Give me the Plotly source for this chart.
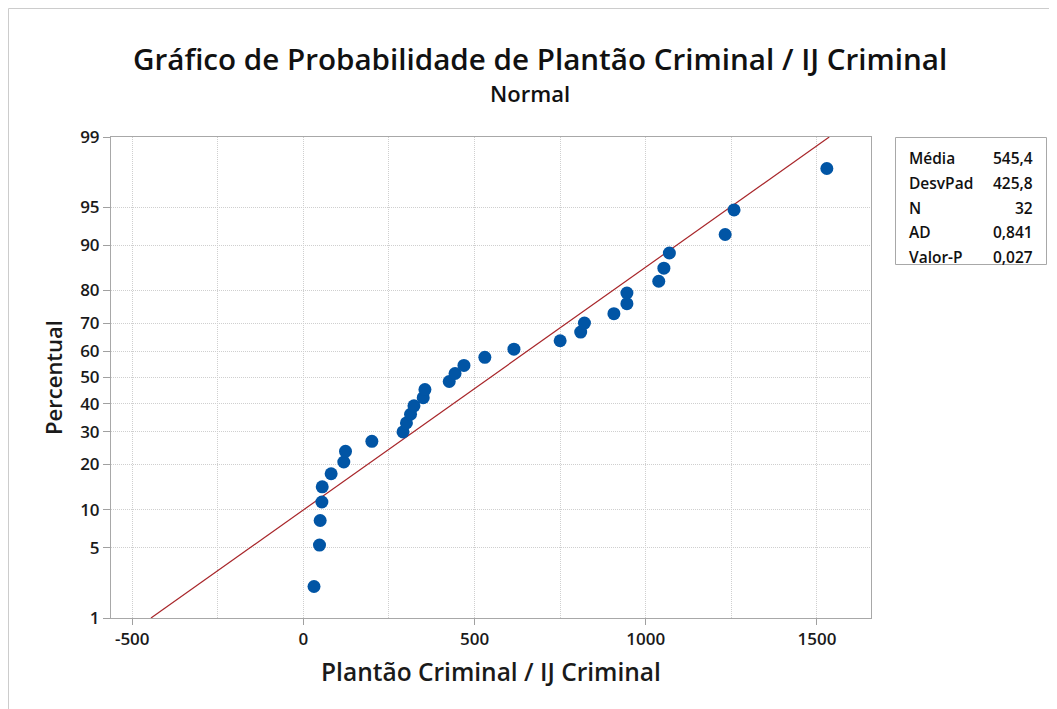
import plotly.graph_objects as go
from statistics import NormalDist

values = [31, 47, 49, 54, 55, 81, 118, 123, 200, 291, 301, 313, 323, 350, 355, 426,
          443, 469, 530, 615, 750, 810, 821, 907, 945, 945, 1038, 1053, 1069, 1232, 1258, 1529]
# plotting positions (percent)
percents = [2.16, 5.25, 8.33, 11.42, 14.51, 17.59, 20.68, 23.77, 26.85, 29.94, 33.02,
            36.11, 39.20, 42.28, 45.37, 48.46, 51.54, 54.63, 57.72, 60.80, 63.89, 66.98,
            70.06, 73.15, 76.23, 79.32, 82.41, 85.49, 88.58, 91.67, 94.75, 97.84]

y_ticks = [1, 5, 10, 20, 30, 40, 50, 60, 70, 80, 90, 95, 99]
x_ticks = [-500, 0, 500, 1000, 1500]

stat_labels = ["Média", "DesvPad", "N", "AD", "Valor-P"]
stat_values = ["545,4", "425,8", "32", "0,841", "0,027"]
mean, sd = 545.4, 425.8

nd = NormalDist()
z = lambda p: nd.inv_cdf(p / 100.0)

FONT = "Open Sans"
OFF = 8  # page body margin
W, H = 1057, 709
L, R, T, B = 111 - OFF, W - 871 + OFF, 137 - OFF, H - 618 + OFF
pw, ph = W - L - R, H - T - B

fig = go.Figure()

# fitted line, 1% .. 99%
z_lo, z_hi = z(1), z(99)
fig.add_trace(go.Scatter(
    x=[mean + sd * z_lo, mean + sd * z_hi], y=[z_lo, z_hi],
    mode="lines", line=dict(color="#A8262A", width=1.2), hoverinfo="skip",
))
fig.add_trace(go.Scatter(
    x=values, y=[z(p) for p in percents], mode="markers",
    marker=dict(color="#0155A5", size=13),
))

grid = dict(showgrid=True, gridcolor="#CFCFCF", griddash="1px,1px", gridwidth=1)
tfont = dict(family=FONT, size=17, color="#1A1A1A", weight=600)
fig.update_xaxes(
    range=[-562, 1658], tickvals=x_ticks, ticktext=[str(v) for v in x_ticks],
    ticks="outside", ticklen=6, tickcolor="#A0A0A0",
    showline=True, mirror=True, linecolor="#A8A8A8", linewidth=1, zeroline=False,
    minor=dict(dtick=250, tick0=0, ticks="", **grid), **grid,
    tickfont=tfont,
    title=dict(text="Plantão Criminal / IJ Criminal", standoff=14,
               font=dict(family=FONT, size=24.5, color="#1A1A1A", weight=600)),
)
fig.update_yaxes(
    range=[z_lo, z_hi], tickvals=[z(p) for p in y_ticks], ticktext=[str(p) for p in y_ticks],
    ticks="outside", ticklen=7, tickcolor="#A0A0A0",
    showline=True, mirror=True, linecolor="#A8A8A8", linewidth=1, zeroline=False, **grid,
    tickfont=tfont,
    title=dict(text="Percentual", standoff=11,
               font=dict(family=FONT, size=22, color="#1A1A1A", weight=600)),
)

def px(x):
    return (x - OFF - L) / pw

def py(y):
    return 1 - (y - OFF - T) / ph

annotations = [
    dict(text="Gráfico de Probabilidade de Plantão Criminal / IJ Criminal", x=px(540), y=py(59),
         xref="paper", yref="paper", showarrow=False, xanchor="center", yanchor="middle",
         font=dict(family=FONT, size=29.6, color="#111111", weight=600)),
    dict(text="Normal", x=px(530), y=py(93), xref="paper", yref="paper", showarrow=False,
         xanchor="center", yanchor="middle",
         font=dict(family=FONT, size=22, color="#111111", weight=600)),
]
for i, (lab, val) in enumerate(zip(stat_labels, stat_values)):
    yy = py(158 + i * 24.8)
    annotations.append(dict(text=lab, x=px(907), y=yy, xref="paper", yref="paper",
                            showarrow=False, xanchor="left", yanchor="middle",
                            font=dict(family=FONT, size=15.5, color="#111111", weight=600)))
    annotations.append(dict(text=val, x=px(1035), y=yy, xref="paper", yref="paper",
                            showarrow=False, xanchor="right", yanchor="middle",
                            font=dict(family=FONT, size=15.5, color="#111111", weight=600)))

shapes = [
    dict(type="rect", xref="paper", yref="paper", x0=px(895.5), x1=px(1046.5), y0=py(137.5), y1=py(264.5),
         line=dict(color="#A8A8A8", width=1)),
    dict(type="rect", xref="paper", yref="paper", x0=px(8.5), x1=px(1100), y0=py(8.5), y1=py(760),
         line=dict(color="#CCCCCC", width=1)),
]

fig.update_layout(
    width=W, height=H, margin=dict(l=L, r=R, t=T, b=B),
    paper_bgcolor="white", plot_bgcolor="white", showlegend=False,
    annotations=annotations, shapes=shapes,
)

fig.write_html("out.html")
